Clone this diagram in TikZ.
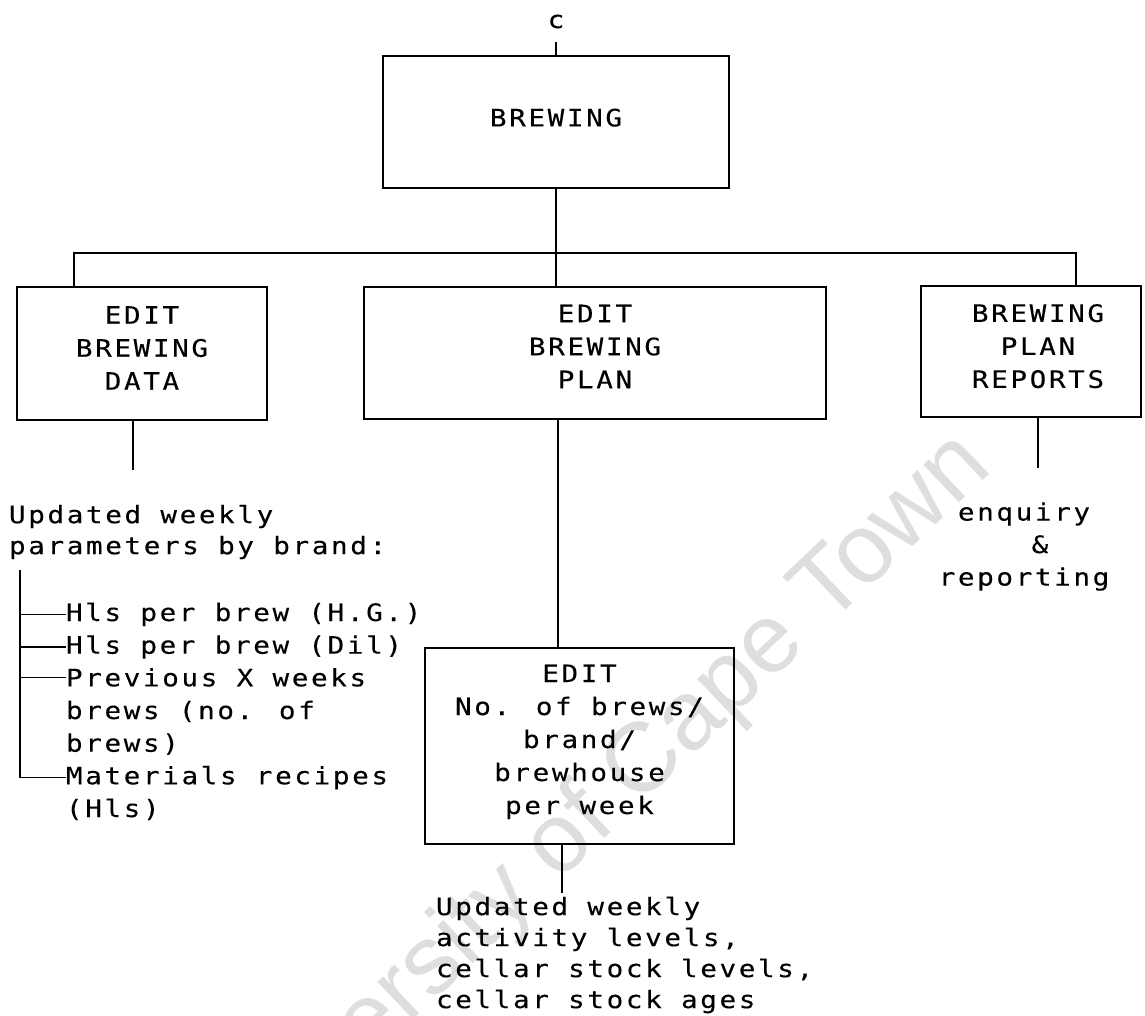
\documentclass[tikz,border=0pt]{standalone}
\usepackage{fontspec}
\newfontfamily\typer[FakeStretch=1.15, LetterSpace=11, FakeBold=0.2]{DejaVu Sans Mono}
\newfontfamily\wmfont{Liberation Sans}
% a zero-width rule that deepens the last line of a box label
\newcommand\sink[1]{\rule[-#1]{0pt}{#1}}

\begin{document}
\begin{tikzpicture}[x=0.5pt,y=-0.5pt,
  every node/.style={inner sep=0pt, outer sep=0pt},
  txt/.style={font=\typer\fontsize{12pt}{#1}\selectfont},
  txt/.default=16.5pt,
  procbox/.style={draw, line width=1.1pt, align=center, txt},
  wire/.style={line width=0.8pt},
]
\useasboundingbox (0,0) rectangle (1145,1016);
\fill[white] (0,0) rectangle (1145,1016);

% archive watermark behind the chart
\begin{scope}
  \clip (0,0) rectangle (1145,1016);
  \node[rotate=43.5, text=black!13, font=\wmfont\fontsize{49pt}{52pt}\selectfont]
    (wm) at (593,815) {University of Cape Town};
\end{scope}

% top of the hierarchy
\node[txt] (cmark) at (556,21.5) {c};
\coordinate (ctop) at (556,42);
\node[procbox, minimum width=173pt, minimum height=66pt] (brew) at (556,122) {BREWING\sink{4.5pt}};

% second level
\node[procbox, minimum width=125pt, minimum height=66.5pt] (data) at (142,353.5)
  {EDIT\\BREWING\\DATA\sink{5.5pt}};
\node[procbox, minimum width=231pt, minimum height=66pt] (plan) at (595,353)
  {EDIT\\BREWING\\PLAN\sink{6.5pt}};
\node[procbox, minimum width=110pt, minimum height=65.5pt] (reports) at (1031,351.5)
  {\hspace*{7pt}BREWING\\\hspace*{7pt}PLAN\\\hspace*{7pt}REPORTS\sink{5.5pt}};

% third level
\node[procbox, minimum width=154.5pt, minimum height=98pt] (wk) at (579.5,746)
  {EDIT\\No. of brews/\\brand/\\brewhouse\\per week\sink{6.75pt}};

% data parameters list
\node[txt=15.5pt, align=left, anchor=west] (upd) at (9,532)
  {Updated weekly\\parameters by brand:};
\node[txt, anchor=base west] (i1) at (66,621) {Hls per brew (H.G.)};
\node[txt, anchor=base west] (i2) at (66,653.7) {Hls per brew (Dil)};
\node[txt, anchor=base west] (i3) at (66,686.3) {Previous X weeks};
\node[txt, anchor=base west] (i4) at (66,719) {brews (no. of};
\node[txt, anchor=base west] (i5) at (66,751.7) {brews)};
\node[txt, anchor=base west] (i6) at (66,784.3) {Materials recipes};
\node[txt, anchor=base west] (i7) at (66,817) {(Hls)};

% report output
\node[txt=16.25pt, align=center] (enq) at (1024,546.5)
  {enquiry\\\hspace*{16pt}\&\\reporting};

% plan output
\node[txt=15.5pt, align=left, anchor=west] (out) at (436,955)
  {Updated weekly\\activity levels,\\cellar stock levels,\\cellar stock ages};

% connectors
\coordinate (busL) at (74,253);
\coordinate (busR) at (1076,253);
\coordinate (dstub) at (133,470);
\coordinate (pdx) at (558,530);
\coordinate (rstub) at (1038,468);
\coordinate (bstub) at (562,893);
\coordinate (spine) at (20,570);

\draw[wire] (ctop) -- (brew.north);
\draw[wire] (brew.south) -- (brew.south |- plan.north);
\draw[wire] (data.north -| busL) -- (busL) -- (busR) -- (reports.north -| busR);
\draw[wire] (dstub |- data.south) -- (dstub);
\draw[wire] (pdx |- plan.south) -- (pdx |- wk.north);
\draw[wire] (rstub |- reports.south) -- (rstub);
\draw[wire] (bstub |- wk.south) -- (bstub);

% parameter tree
\draw[wire] (spine) |- (i6.west);
\foreach \leaf in {i1,i2,i3} {
  \draw[wire] (spine |- \leaf.west) -- (\leaf.west);
}
\end{tikzpicture}
\end{document}
